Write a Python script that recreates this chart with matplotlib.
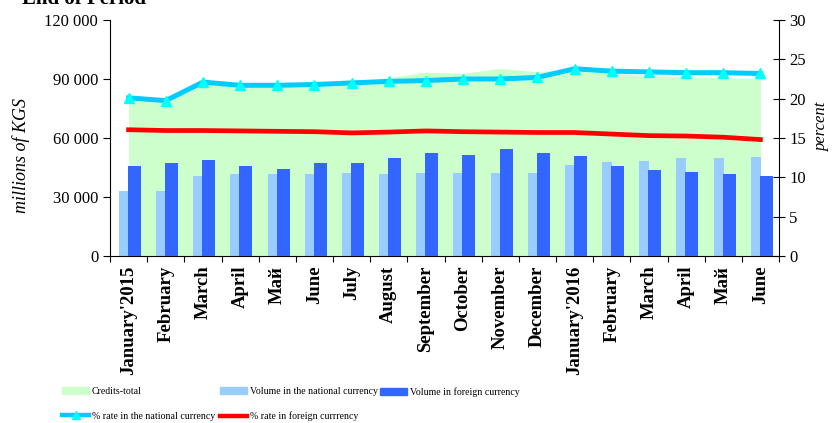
import matplotlib.pyplot as plt
import numpy as np
from matplotlib.lines import Line2D
from matplotlib.patches import Patch

months = ["January'2015", "February", "March", "April", "Май", "June",
          "July", "August", "September", "October", "November", "December",
          "January'2016", "February", "March", "April", "Май", "June"]

# millions of KGS
credits_total = [80000, 78500, 88000, 87000, 87000, 87500, 88500, 90700, 93500,
                 92900, 95400, 93700, 95500, 92900, 91700, 91200, 90700, 90300]
vol_national = [33000, 33000, 40700, 41700, 41900, 41900, 42000, 41900, 42200,
                42200, 42000, 42200, 46300, 47800, 48500, 49800, 49800, 50500]
vol_foreign = [45900, 47100, 48600, 45900, 44400, 47100, 47100, 50000, 52200,
               51500, 54400, 52200, 50800, 45900, 43600, 42700, 41700, 40700]

# percent
rate_national = [20.1, 19.75, 22.1, 21.7, 21.7, 21.8, 22.0, 22.2, 22.3,
                 22.5, 22.5, 22.7, 23.8, 23.5, 23.4, 23.3, 23.3, 23.2]
rate_foreign = [16.05, 15.95, 15.95, 15.9, 15.85, 15.8, 15.65, 15.75, 15.9,
                15.8, 15.75, 15.7, 15.7, 15.5, 15.3, 15.25, 15.1, 14.8]

plt.rcParams['font.family'] = ['Liberation Serif', 'DejaVu Serif']

fig = plt.figure(figsize=(8.32, 4.23), dpi=100)
ax = fig.add_axes([110 / 832, 167 / 423, 669 / 832, 236 / 423])
ax2 = ax.twinx()

x = np.arange(len(months))

# area and bars on the left axis
ax.fill_between(x, credits_total, 0, color="#CCFFCC", lw=0, zorder=1)
ax.bar(x - 0.125, vol_national, width=0.27, color="#99CCFF", zorder=2)
ax.bar(x + 0.155, vol_foreign, width=0.35, color="#3366FF", zorder=3)

# rates on the right axis
ax2.plot(x, rate_national, color="#00CCFF", lw=3.6, marker="^", ms=7,
         mfc="#00FFFF", mec="#00FFFF", zorder=4)
ax2.plot(x, rate_foreign, color="#FF0000", lw=3.4, zorder=4)

ax.set_xlim(-0.5, len(months) - 0.5)
ax.set_ylim(0, 120000)
ax2.set_ylim(0, 30)

ax.set_yticks(np.arange(0, 120001, 30000))
ax.set_yticklabels([f"{v:,}".replace(",", " ") for v in range(0, 120001, 30000)])
ax2.set_yticks(np.arange(0, 31, 5))

ax.set_xticks(np.arange(-0.5, len(months), 1))
ax.set_xticklabels([])
ax.set_xticks(x, minor=True)
ax.set_xticklabels(months, minor=True, rotation=90, fontweight="bold", fontsize=13.5)
ax.tick_params(axis="x", which="minor", length=0, pad=7)
ax.tick_params(axis="x", which="major", length=4, direction="out")
ax.tick_params(axis="y", labelsize=12, length=5)
ax2.tick_params(axis="y", labelsize=12, length=8, direction="inout")

for s in ["top", "right"]:
    ax.spines[s].set_visible(False)
for s in ["top", "left", "bottom"]:
    ax2.spines[s].set_visible(False)

ax.set_ylabel("millions of KGS", style="italic", fontsize=13)
ax.yaxis.set_label_coords(-0.12, 0.424)
ax2.set_ylabel("percent", style="italic", fontsize=12)
ax2.yaxis.set_label_coords(1.052, 0.55)

fig.text(22 / 832, 1 - 4 / 423, "End of Period", fontweight="bold", fontsize=15,
         va="baseline", ha="left")

# legend: three columns placed at their own x positions
cyan_handle = Line2D([], [], color="#00CCFF", lw=3.2, marker="^", ms=6,
                     mfc="#00FFFF", mec="#00FFFF")
red_handle = Line2D([], [], color="#FF0000", lw=3.2)
columns = [
    (62, [Patch(color="#CCFFCC"), cyan_handle],
     ["Credits-total", "% rate in the national currency"]),
    (220, [Patch(color="#99CCFF"), red_handle],
     ["Volume in the national currency", "% rate in foreign currrency"]),
    (380, [Patch(color="#3366FF")], ["Volume in foreign currency"]),
]
for xpos, hs, ls in columns:
    fig.legend(hs, ls, loc="upper left",
               bbox_to_anchor=(xpos / 832, 1 - 387 / 423), borderpad=0, borderaxespad=0,
               frameon=False, fontsize=7.1, handlelength=2.75, handletextpad=0.25,
               labelspacing=1.6)

fig.savefig("out.png", dpi=100)
